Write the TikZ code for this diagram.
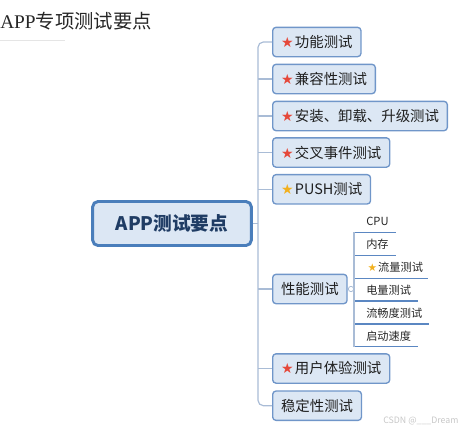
\documentclass[tikz,border=0pt]{standalone}
\usepackage{fontspec}
\setmainfont{Noto Sans CJK SC}
\newfontfamily\symfont{DejaVu Sans}
\newfontfamily\titlelat{Liberation Serif}
\definecolor{boxfill}{HTML}{DCE7F4}
\definecolor{boxline}{HTML}{7096C9}
\definecolor{mainline}{HTML}{4A7EBB}
\definecolor{maintext}{HTML}{1F3C64}
\definecolor{conncol}{HTML}{A9BCD6}
\definecolor{ulcol}{HTML}{5B87C2}
\definecolor{starred}{HTML}{E5483A}
\definecolor{staryel}{HTML}{F2B01E}
\newcommand{\rstar}{{\symfont\fontsize{10.5}{8}\selectfont\color{starred}★}\hspace{1pt}}
\newcommand{\ystar}{{\symfont\fontsize{10.5}{8}\selectfont\color{staryel}★}\hspace{1pt}}
\newcommand{\ysstar}{{\symfont\fontsize{8}{6}\selectfont\color{staryel}★}\hspace{0.8pt}}
\begin{document}
\begin{tikzpicture}[x=0.75pt,y=-0.75pt,
  child/.style={draw=boxline,line width=1pt,fill=boxfill,rounded corners=2.5pt,
    anchor=west,minimum height=22pt,inner xsep=6.3pt,inner ysep=0pt,
    font=\fontsize{10.8}{12}\selectfont,text=black!88},
  mainbox/.style={draw=mainline,line width=2.2pt,fill=boxfill,rounded corners=4pt,
    minimum width=119pt,minimum height=33pt,
    font=\fontsize{14}{16}\selectfont\bfseries,text=maintext},
  conn/.style={draw=conncol,line width=0.9pt},
  sub/.style={anchor=south west,inner xsep=0pt,inner ysep=0pt,minimum height=15.5pt,
    align=left,font=\fontsize{8.4}{10}\selectfont,text=black!85,
    append after command={(\tikzlastnode.south west) edge[draw=ulcol,line width=1.1pt] (\tikzlastnode.south east)}},
  knob/.style={circle,draw=conncol,line width=0.6pt,fill=white,inner sep=0pt,minimum size=4pt}
]
\useasboundingbox (0,0) rectangle (467,432);

% title
\node[anchor=west,inner sep=0pt,text=black!85,font=\fontsize{14.5}{16}\selectfont] (title) at (0,21.5) {{\titlelat APP}专项测试要点};
\draw[black!10,line width=0.6pt] (0,40) -- (65,40);

% central
\node[mainbox] (main) at (172,223.5) {APP测试要点};

% children
\node[child] (c1) at (272,42) {\rstar 功能测试};
\node[child] (c2) at (272,79) {\rstar 兼容性测试};
\node[child] (c3) at (272,116) {\rstar 安装、卸载、升级测试};
\node[child] (c4) at (272,152.5) {\rstar 交叉事件测试};
\node[child] (c5) at (272,189.3) {\ystar PUSH测试};
\node[child] (c6) at (272,289) {性能测试};
\node[child] (c7) at (272,368.5) {\rstar 用户体验测试};
\node[child] (c8) at (272,405.7) {稳定性测试};

% trunk
\coordinate (trunk) at (258,0);
\draw[conn] (main.east) -- (main.east -| trunk);
\draw[conn,rounded corners=4pt] (c1.west) -- (c1.west -| trunk) -- (c8.west -| trunk) -- (c8.west);
\foreach \i in {2,...,7}{\draw[conn] (c\i.west -| trunk) -- (c\i.west);}

% performance sub items
\node[sub,text width=30.75pt] (s1) at (354,232.3) {\hspace*{9pt}CPU};
\node[sub,text width=30.75pt] (s2) at (354,255.3) {\hspace*{9pt}内存};
\node[sub,text width=54.75pt] (s3) at (354,278.3) {\hspace*{10pt}\ysstar 流量测试};
\node[sub,text width=47.25pt] (s4) at (354,301) {\hspace*{9pt}电量测试};
\node[sub,text width=55.5pt] (s5) at (354,324) {\hspace*{9pt}流畅度测试};
\node[sub,text width=47.25pt] (s6) at (354,346.7) {\hspace*{9pt}启动速度};
\draw[conn,line width=0.8pt] (s1.south west) -- (s6.south west);
\node[knob] (k) at (351,289) {};
\draw[conn,line width=0.8pt] (c6.east) -- (k);

% watermark
\node[anchor=west,inner sep=0pt,text=black!22,font=\fontsize{6.6}{8}\selectfont] (wm) at (383,421) {CSDN @\_\_\_Dream};
\end{tikzpicture}
\end{document}
